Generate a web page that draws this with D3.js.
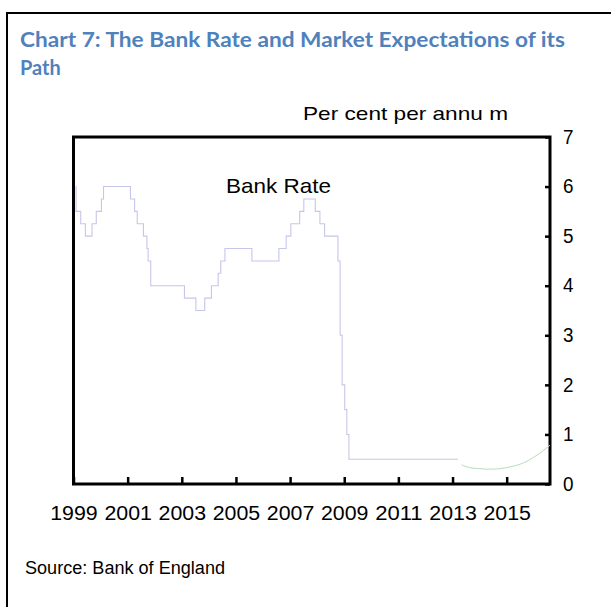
<!DOCTYPE html>
<html>
<head>
<meta charset="utf-8">
<script src="https://cdn.jsdelivr.net/npm/d3@7"></script>
<style>
  body { margin: 0; background: #fff; }
  svg { display: block; }
</style>
</head>
<body>
<div id="chart"></div>
<script>
// Bank Rate change dates and the rate set on each (per cent)
const rateDates = [
  '1999-01-30', '1999-02-04', '1999-04-08', '1999-06-10', '1999-09-08', '1999-11-04',
  '2000-01-13', '2000-02-10', '2001-02-08', '2001-04-05', '2001-05-10', '2001-08-02',
  '2001-09-18', '2001-10-04', '2001-11-08', '2003-02-06', '2003-07-10', '2003-11-06',
  '2004-02-05', '2004-05-06', '2004-06-10', '2004-08-05', '2005-08-04', '2006-08-03',
  '2006-11-09', '2007-01-11', '2007-05-10', '2007-07-05', '2007-12-06', '2008-02-07',
  '2008-04-10', '2008-10-08', '2008-11-06', '2008-12-04', '2009-01-08', '2009-02-05',
  '2009-03-05', '2013-03-15',
];
const rateValues = [
  6.0, 5.5, 5.25, 5.0, 5.25, 5.5,
  5.75, 6.0, 5.75, 5.5, 5.25, 5.0,
  4.75, 4.5, 4.0, 3.75, 3.5, 3.75,
  4.0, 4.25, 4.5, 4.75, 4.5, 4.75,
  5.0, 5.25, 5.5, 5.75, 5.5, 5.25,
  5.0, 4.5, 3.0, 2.0, 1.5, 1.0,
  0.5, 0.5,
];

// market expectations of the path (forward curve)
const fwdYears = [2013.33, 2013.5, 2013.75, 2014.0, 2014.25, 2014.5, 2014.75, 2015.0,
  2015.25, 2015.5, 2015.75, 2016.0, 2016.25, 2016.5, 2016.6];
const fwdValues = [0.39, 0.35, 0.32, 0.31, 0.30, 0.30, 0.31, 0.33,
  0.36, 0.40, 0.46, 0.54, 0.63, 0.74, 0.78];

const tickYears = [1999, 2001, 2003, 2005, 2007, 2009, 2011, 2013, 2015];
const yTicks = [0, 1, 2, 3, 4, 5, 6, 7];

const width = 611;
const height = 607;
const plot = {left: 73.5, right: 550, top: 137, bottom: 484};
const font = '"Liberation Sans", Arial, sans-serif';

const parseDate = d3.timeParse('%Y-%m-%d');
const toYear = str => {
  const d = parseDate(str);
  const y0 = d3.timeYear.floor(d);
  const y1 = d3.timeYear.offset(y0, 1);
  return y0.getFullYear() + (d - y0) / (y1 - y0);
};

const svg = d3.select('#chart').append('svg')
  .attr('width', width)
  .attr('height', height);

// outer box (runs off the right and bottom edges)
svg.append('rect')
  .attr('x', 7).attr('y', 13)
  .attr('width', 700).attr('height', 700)
  .attr('fill', 'none')
  .attr('stroke', '#000')
  .attr('stroke-width', 2);

const title = svg.append('g')
  .attr('font-family', 'Lato, "Open Sans", sans-serif')
  .attr('font-weight', 700)
  .attr('font-size', 20)
  .attr('fill', '#4f81bd');
title.append('text')
  .attr('x', 20).attr('y', 47)
  .attr('textLength', 545).attr('lengthAdjust', 'spacingAndGlyphs')
  .text('Chart 7: The Bank Rate and Market Expectations of its');
title.append('text')
  .attr('x', 20).attr('y', 75)
  .text('Path');

svg.append('text')
  .attr('x', 303).attr('y', 120)
  .attr('font-family', font).attr('font-size', 19)
  .attr('textLength', 205).attr('lengthAdjust', 'spacingAndGlyphs')
  .text('Per cent per annu m');

const x = d3.scaleLinear().domain([1999, 2016.6]).range([plot.left, plot.right]);
const y = d3.scaleLinear().domain([0, 7]).range([plot.bottom, plot.top]);

// x axis: ticks point up into the plot
const xAxis = svg.append('g')
  .attr('transform', `translate(0,${plot.bottom})`)
  .call(d3.axisBottom(x)
    .tickValues(tickYears)
    .tickFormat(d3.format('d'))
    .tickSize(-7)
    .tickPadding(22))
  .call(g => g.select('.domain').remove());
xAxis.selectAll('line').attr('stroke', '#000').attr('stroke-width', 2.5);
xAxis.selectAll('text')
  .attr('font-family', font).attr('font-size', 19.5).attr('fill', '#000')
  .attr('textLength', 47.5).attr('lengthAdjust', 'spacingAndGlyphs');

// y axis on the right, ticks point left
const yAxis = svg.append('g')
  .attr('transform', `translate(${plot.right},0)`)
  .call(d3.axisRight(y)
    .tickValues(yTicks)
    .tickFormat(d3.format('d'))
    .tickSize(-5)
    .tickPadding(13))
  .call(g => g.select('.domain').remove());
yAxis.selectAll('line').attr('stroke', '#000').attr('stroke-width', 2.5);
yAxis.selectAll('text')
  .attr('font-family', font).attr('font-size', 19.5).attr('fill', '#000')
  .attr('textLength', 10.5).attr('lengthAdjust', 'spacingAndGlyphs');

// plot frame
svg.append('rect')
  .attr('x', plot.left).attr('y', plot.top)
  .attr('width', plot.right - plot.left)
  .attr('height', plot.bottom - plot.top)
  .attr('fill', 'none')
  .attr('stroke', '#000')
  .attr('stroke-width', 3);

const rateData = rateDates.map((d, i) => [toYear(d), rateValues[i]]);
const rateLine = d3.line()
  .x(d => x(d[0]))
  .y(d => y(d[1]))
  .curve(d3.curveStepAfter);
svg.append('path')
  .datum(rateData)
  .attr('d', rateLine)
  .attr('fill', 'none')
  .attr('stroke', '#c6c6ea')
  .attr('stroke-width', 1.1);

const fwdLine = d3.line()
  .x((d, i) => x(fwdYears[i]))
  .y(d => y(d))
  .curve(d3.curveMonotoneX);
svg.append('path')
  .datum(fwdValues)
  .attr('d', fwdLine)
  .attr('fill', 'none')
  .attr('stroke', '#b6deb6')
  .attr('stroke-width', 1);

svg.append('text')
  .attr('x', 226).attr('y', 193)
  .attr('font-family', font).attr('font-size', 21)
  .attr('textLength', 105).attr('lengthAdjust', 'spacingAndGlyphs')
  .text('Bank Rate');

svg.append('text')
  .attr('x', 25).attr('y', 574)
  .attr('font-family', font).attr('font-size', 18)
  .attr('textLength', 200).attr('lengthAdjust', 'spacingAndGlyphs')
  .text('Source: Bank of England');
</script>
</body>
</html>
